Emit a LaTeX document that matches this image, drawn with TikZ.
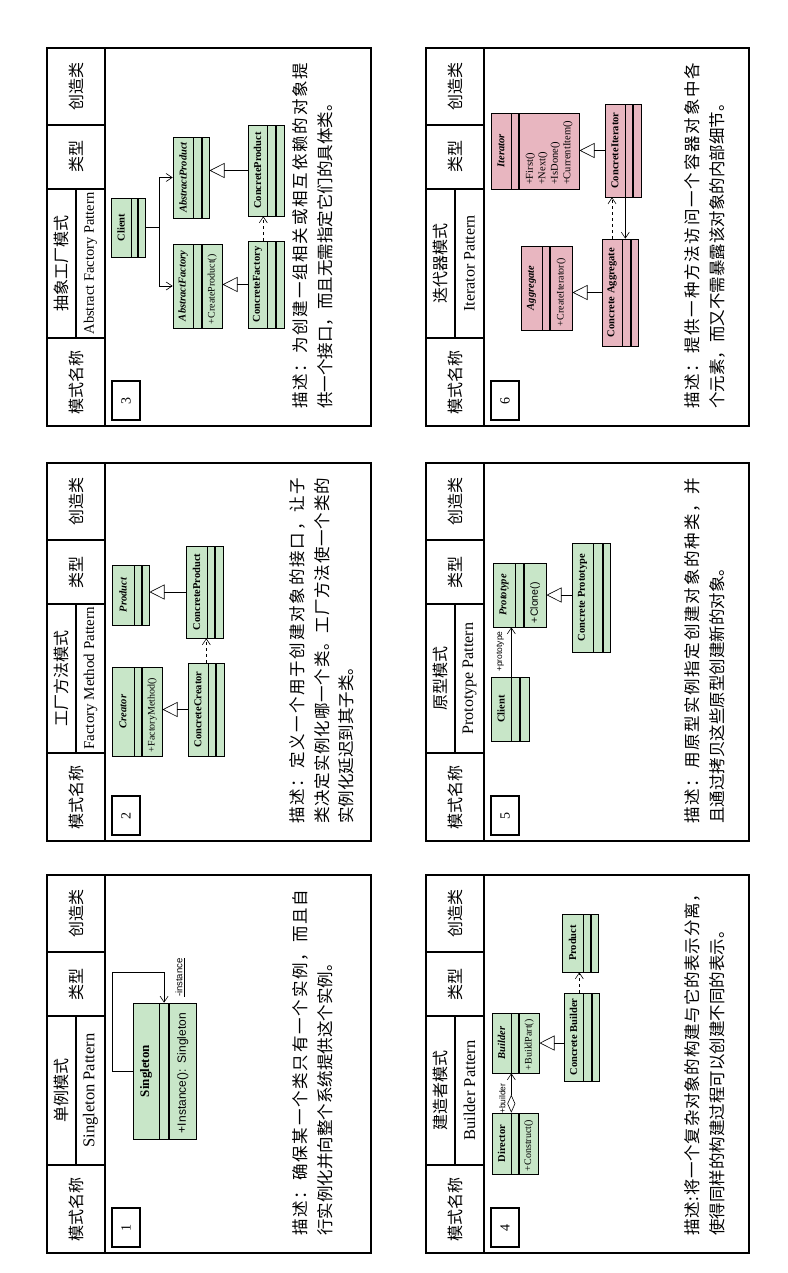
\documentclass[tikz,border=0pt]{standalone}
\usepackage{fontspec}
\setmainfont{Liberation Serif}
\newfontfamily\cjk{Noto Sans CJK SC}
\newfontfamily\arialfont{Liberation Sans}
\usetikzlibrary{arrows.meta,positioning}
\definecolor{umlgreen}{RGB}{200,230,200}
\definecolor{umlrose}{RGB}{232,182,192}
\def\spreadtext#1{#1\spreadnext}
\def\spreadnext#1{\ifx\relax#1\else\hfill#1\expandafter\spreadnext\fi}
\newcommand\fullline[2][346pt]{\makebox[#1][s]{\spreadtext#2\relax}}

\begin{document}
\begin{tikzpicture}[x=1pt,y=-1pt,
  cardline/.style={line width=1.5pt},
  sz/.style 2 args={minimum width=#1pt, minimum height=#2pt},
  umlbox/.style={draw, line width=0.6pt, fill=umlgreen, rotate=90, inner sep=0pt},
  rosebox/.style={umlbox, fill=umlrose},
  clsname/.style={font=\bfseries\fontsize{10.5}{12}\selectfont},
  absname/.style={font=\bfseries\itshape\fontsize{10.5}{12}\selectfont},
  opstext/.style={font=\fontsize{10}{12}\selectfont, align=left},
  hdtext/.style={rotate=90, font=\cjk\fontsize{16}{19}\selectfont},
  entext/.style={rotate=90, font=\fontsize{15}{18}\selectfont},
  numbox/.style={draw, line width=1.5pt, rotate=90, minimum width=39pt, minimum height=28pt, inner sep=0pt, font=\fontsize{14}{16}\selectfont},
  desctext/.style={rotate=90, anchor=west, inner sep=0pt, font=\cjk\fontsize{16.5}{19}\selectfont},
  rolelbl/.style={rotate=90, inner sep=0pt, font=\arialfont\fontsize{8.5}{10}\selectfont},
  inherit/.style={line width=0.6pt, -{Triangle[open,length=15pt,width=15pt]}},
  navig/.style={line width=0.6pt, -{Straight Barb[length=6pt,width=8pt]}},
  depend/.style={navig, dashed}]
\useasboundingbox (0,0) rectangle (787,1273);
\fill[white] (0,0) rectangle (787,1273);

% card 1
\draw[cardline] (47,875) rectangle (371,1253) (105,875) -- (105,1253)
  (47,952) -- (105,952) (47,1016) -- (105,1016) (47,1165) -- (105,1165) (76,1016) -- (76,1165);
\node[numbox] (n1) at (126,1227.5) {1};
\node[hdtext] (k1) at (76,913.5) {创造类};
\node[hdtext] (t1) at (76,984) {类型};
\node[hdtext] (c1) at (61.5,1090.5) {单例模式};
\node[entext, font=\fontsize{16.5}{18}\selectfont] (e1) at (90.5,1090.5) {Singleton Pattern};
\node[hdtext] (m1) at (76,1209) {模式名称};
\node[desctext] (d1a) at (300,1236) {\fullline{描述：确保某一个类只有一个实例，而且自}};
\node[desctext] (d1b) at (325,1236) {行实例化并向整个系统提供这个实例。};
\node[umlbox, sz={136}{26}, font=\bfseries\fontsize{13}{15}\selectfont] (sgl) at (146,1071) {Singleton};
\node[umlbox, sz={136}{9}, below=0pt of sgl] (sgl-a) {};
\node[umlbox, sz={136}{27}, below=0pt of sgl-a, align=left, text width=124pt, font=\arialfont\fontsize{12}{14}\selectfont] (sgl-o) {+Instance(): Singleton};
\draw[navig] (sgl.north) -- ++(-20,0) |- ([yshift=30pt]sgl-a.east) -- (sgl-a.east);
\node[rolelbl, font=\arialfont\fontsize{9.5}{11}\selectfont] (inst) at ([xshift=16pt,yshift=25pt]sgl-a.east) {\underline{-instance}};

% card 2
\draw[cardline] (47,463) rectangle (371,841) (105,463) -- (105,841)
  (47,540) -- (105,540) (47,604) -- (105,604) (47,753) -- (105,753) (76,604) -- (76,753);
\node[numbox] (n2) at (126,815.5) {2};
\node[hdtext] (k2) at (76,501.5) {创造类};
\node[hdtext] (t2) at (76,572) {类型};
\node[hdtext] (c2) at (61.5,678.5) {工厂方法模式};
\node[entext] (e2) at (90.5,678.5) {Factory Method Pattern};
\node[hdtext] (m2) at (76,797) {模式名称};
\node[desctext] (d2a) at (297,824) {\fullline{描述：定义一个用于创建对象的接口，让子}};
\node[desctext] (d2b) at (322,824) {\fullline{类决定实例化哪一个类。工厂方法使一个类的}};
\node[desctext] (d2c) at (346,824) {实例化延迟到其子类。};
\node[umlbox, sz={89}{22}, absname] (cr) at (123,711.5) {Creator};
\node[umlbox, sz={89}{7}, below=0pt of cr] (cr-a) {};
\node[umlbox, sz={89}{20}, below=0pt of cr-a, opstext, text width=81pt] (cr-o) {+FactoryMethod()};
\node[umlbox, sz={60}{22}, absname] (pr) at (123,595) {Product};
\node[umlbox, sz={60}{7}, below=0pt of pr] (pr-a) {};
\node[umlbox, sz={60}{7}, below=0pt of pr-a] (pr-o) {};
\node[umlbox, sz={93}{20}, clsname] (ccr) at (198,709.5) {ConcreteCreator};
\node[umlbox, sz={93}{7}, below=0pt of ccr] (ccr-a) {};
\node[umlbox, sz={93}{8}, below=0pt of ccr-a] (ccr-o) {};
\node[umlbox, sz={92}{21}, clsname] (cpr) at (196.5,592) {ConcreteProduct};
\node[umlbox, sz={92}{7}, below=0pt of cpr] (cpr-a) {};
\node[umlbox, sz={92}{8}, below=0pt of cpr-a] (cpr-o) {};
\draw[inherit] (ccr.north) -- (ccr.north -| cr-o.south);
\draw[inherit] (cpr.north) -- (cpr.north -| pr-o.south);
\coordinate (dp2) at ([xshift=-2pt]ccr.south east);
\draw[depend] (dp2) -- (dp2 |- cpr.west);

% card 3
\draw[cardline] (47,48) rectangle (371,426) (105,48) -- (105,426)
  (47,125) -- (105,125) (47,189) -- (105,189) (47,338) -- (105,338) (76,189) -- (76,338);
\node[numbox] (n3) at (126,400.5) {3};
\node[hdtext] (k3) at (76,86.5) {创造类};
\node[hdtext] (t3) at (76,157) {类型};
\node[hdtext] (c3) at (61.5,263.5) {抽象工厂模式};
\node[entext, font=\fontsize{14.5}{17}\selectfont] (e3) at (90.5,263.5) {Abstract Factory Pattern};
\node[hdtext] (m3) at (76,382) {模式名称};
\node[desctext] (d3a) at (300,409) {\fullline{描述：为创建一组相关或相互依赖的对象提}};
\node[desctext] (d3b) at (325,409) {供一个接口，而且无需指定它们的具体类。};
\node[umlbox, sz={59}{20}, clsname] (cl3) at (121,227.5) {Client};
\node[umlbox, sz={59}{6}, below=0pt of cl3] (cl3-a) {};
\node[umlbox, sz={59}{7}, below=0pt of cl3-a] (cl3-o) {};
\node[umlbox, sz={84}{20}, absname] (af) at (183,286) {AbstractFactory};
\node[umlbox, sz={84}{8}, below=0pt of af] (af-a) {};
\node[umlbox, sz={84}{20}, below=0pt of af-a, opstext, text width=76pt] (af-o) {+CreateProduct()};
\node[umlbox, sz={81}{20}, absname] (ap) at (183,177.5) {AbstractProduct};
\node[umlbox, sz={81}{8}, below=0pt of ap] (ap-a) {};
\node[umlbox, sz={81}{7}, below=0pt of ap-a] (ap-o) {};
\node[umlbox, sz={91}{19}, clsname] (cp3) at (257.5,170.5) {ConcreteProduct};
\node[umlbox, sz={91}{8}, below=0pt of cp3] (cp3-a) {};
\node[umlbox, sz={91}{8}, below=0pt of cp3-a] (cp3-o) {};
\node[umlbox, sz={87}{19}, clsname] (cf) at (257.5,284.5) {ConcreteFactory};
\node[umlbox, sz={87}{8}, below=0pt of cf] (cf-a) {};
\node[umlbox, sz={87}{8}, below=0pt of cf-a] (cf-o) {};
\coordinate (fork) at ([xshift=14pt]cl3-o.south);
\draw[line width=0.6pt] (cl3-o.south) -- (fork);
\draw[navig] (fork) |- (ap.north);
\draw[navig] (fork) |- (af.north);
\draw[inherit] (cf.north) -- (cf.north -| af-o.south);
\draw[inherit] (cp3.north) -- (cp3.north -| ap-o.south);
\coordinate (dp3) at ([xshift=-4pt]cf.south east);
\draw[depend] (dp3) -- (dp3 |- cp3.west);

% card 4
\draw[cardline] (426,875) rectangle (749,1253) (484,875) -- (484,1253)
  (426,952) -- (484,952) (426,1016) -- (484,1016) (426,1165) -- (484,1165) (455,1016) -- (455,1165);
\node[numbox] (n4) at (505,1227.5) {4};
\node[hdtext] (k4) at (455,913.5) {创造类};
\node[hdtext] (t4) at (455,984) {类型};
\node[hdtext] (c4) at (440.5,1090.5) {建造者模式};
\node[entext, font=\fontsize{16.5}{18}\selectfont] (e4) at (469.5,1090.5) {Builder Pattern};
\node[hdtext] (m4) at (455,1209) {模式名称};
\node[desctext] (d4a) at (692,1236) {\fullline[350pt]{描述:将一个复杂对象的构建与它的表示分离，}};
\node[desctext] (d4b) at (717,1236) {使得同样的构建过程可以创建不同的表示。};
\node[umlbox, sz={61}{19}, clsname] (dir) at (501.5,1143.5) {Director};
\node[umlbox, sz={61}{7}, below=0pt of dir] (dir-a) {};
\node[umlbox, sz={61}{19}, below=0pt of dir-a, opstext, text width=55pt] (dir-o) {+Construct()};
\node[umlbox, sz={60}{19}, absname] (bld) at (501.5,1043) {Builder};
\node[umlbox, sz={60}{7}, below=0pt of bld] (bld-a) {};
\node[umlbox, sz={60}{20}, below=0pt of bld-a, opstext, text width=54pt] (bld-o) {+BuildPart()};
\node[umlbox, sz={88}{19}, clsname] (cbd) at (573.5,1037) {Concrete Builder};
\node[umlbox, sz={88}{8}, below=0pt of cbd] (cbd-a) {};
\node[umlbox, sz={88}{7}, below=0pt of cbd-a] (cbd-o) {};
\node[umlbox, sz={58}{21}, clsname] (prd) at (572.5,943) {Product};
\node[umlbox, sz={58}{7}, below=0pt of prd] (prd-a) {};
\node[umlbox, sz={58}{7}, below=0pt of prd-a] (prd-o) {};
\draw[line width=0.6pt, {Diamond[open,length=18pt,width=8pt]}-{Straight Barb[length=6pt,width=8pt]}] (dir.south east) -- (dir.south east |- bld.west);
\node[rolelbl] (bldr) at ([xshift=-9pt,yshift=14pt]dir.south east) {+builder};
\draw[inherit] (bld-o.south -| cbd.north) -- (bld-o.south);
\coordinate (dp4) at ([xshift=-4pt]cbd.south east);
\draw[depend] (dp4) -- (dp4 |- prd.west);

% card 5
\draw[cardline] (426,463) rectangle (749,841) (484,463) -- (484,841)
  (426,540) -- (484,540) (426,604) -- (484,604) (426,753) -- (484,753) (455,604) -- (455,753);
\node[numbox] (n5) at (505,815.5) {5};
\node[hdtext] (k5) at (455,501.5) {创造类};
\node[hdtext] (t5) at (455,572) {类型};
\node[hdtext] (c5) at (440.5,678.5) {原型模式};
\node[entext, font=\fontsize{16}{18}\selectfont] (e5) at (469.5,678.5) {Prototype Pattern};
\node[hdtext] (m5) at (455,797) {模式名称};
\node[desctext] (d5a) at (692,824) {\fullline{描述：用原型实例指定创建对象的种类，并}};
\node[desctext] (d5b) at (717,824) {且通过拷贝这些原型创建新的对象。};
\node[umlbox, sz={64}{22}, absname] (pt) at (504,595) {Prototype};
\node[umlbox, sz={64}{8}, below=0pt of pt] (pt-a) {};
\node[umlbox, sz={64}{22}, below=0pt of pt-a, align=left, text width=56pt, font=\arialfont\fontsize{10.5}{12}\selectfont] (pt-o) {+Clone()};
\node[umlbox, sz={64}{20}, clsname] (cl5) at (501,709) {Client};
\node[umlbox, sz={64}{8}, below=0pt of cl5] (cl5-a) {};
\node[umlbox, sz={64}{9}, below=0pt of cl5-a] (cl5-o) {};
\node[umlbox, sz={109}{21}, clsname] (cpt) at (582.5,597.5) {Concrete Prototype};
\node[umlbox, sz={109}{9}, below=0pt of cpt] (cpt-a) {};
\node[umlbox, sz={109}{7}, below=0pt of cpt-a] (cpt-o) {};
\draw[navig] (cl5.south east) -- (cl5.south east |- pt.west);
\node[rolelbl] (prot) at ([xshift=-11pt,yshift=25pt]cl5.south east) {+prototype};
\draw[inherit] (pt-o.south -| cpt.north) -- (pt-o.south);

% card 6
\draw[cardline] (426,48) rectangle (749,426) (484,48) -- (484,426)
  (426,125) -- (484,125) (426,189) -- (484,189) (426,338) -- (484,338) (455,189) -- (455,338);
\node[numbox] (n6) at (505,400.5) {6};
\node[hdtext] (k6) at (455,86.5) {创造类};
\node[hdtext] (t6) at (455,157) {类型};
\node[hdtext] (c6) at (440.5,263.5) {迭代器模式};
\node[entext, font=\fontsize{16}{18}\selectfont] (e6) at (469.5,263.5) {Iterator Pattern};
\node[hdtext] (m6) at (455,382) {模式名称};
\node[desctext] (d6a) at (692,409) {\fullline{描述：提供一种方法访问一个容器对象中各}};
\node[desctext] (d6b) at (717,409) {个元素，而又不需暴露该对象的内部细节。};
\node[rosebox, sz={76}{20}, absname] (it) at (501,151) {Iterator};
\node[rosebox, sz={76}{7}, below=0pt of it] (it-a) {};
\node[rosebox, sz={76}{60}, below=0pt of it-a, opstext, text width=68pt, font=\fontsize{10.5}{12.5}\selectfont] (it-o) {+First()\\+Next()\\+IsDone()\\+CurrentItem()};
\node[rosebox, sz={93}{20}, clsname] (cit) at (615,150.5) {ConcreteIterator};
\node[rosebox, sz={93}{7}, below=0pt of cit] (cit-a) {};
\node[rosebox, sz={93}{8}, below=0pt of cit-a] (cit-o) {};
\node[rosebox, sz={84}{21}, absname] (ag) at (531.5,288) {Aggregate};
\node[rosebox, sz={84}{7}, below=0pt of ag] (ag-a) {};
\node[rosebox, sz={84}{22}, below=0pt of ag-a, opstext, text width=76pt] (ag-o) {+CreateIterator()};
\node[rosebox, sz={107}{20}, clsname] (cag) at (612,292.5) {Concrete Aggregate};
\node[rosebox, sz={107}{8}, below=0pt of cag] (cag-a) {};
\node[rosebox, sz={107}{7}, below=0pt of cag-a] (cag-o) {};
\draw[inherit] (cit.north) -- (cit.north -| it-o.south);
\draw[inherit] (cag.north) -- (cag.north -| ag-o.south);
\draw[depend] (cag.east) -- (cag.east |- cit.west);
\draw[navig] (cit.south west) -- (cit.south west |- cag.east);
\end{tikzpicture}
\end{document}
